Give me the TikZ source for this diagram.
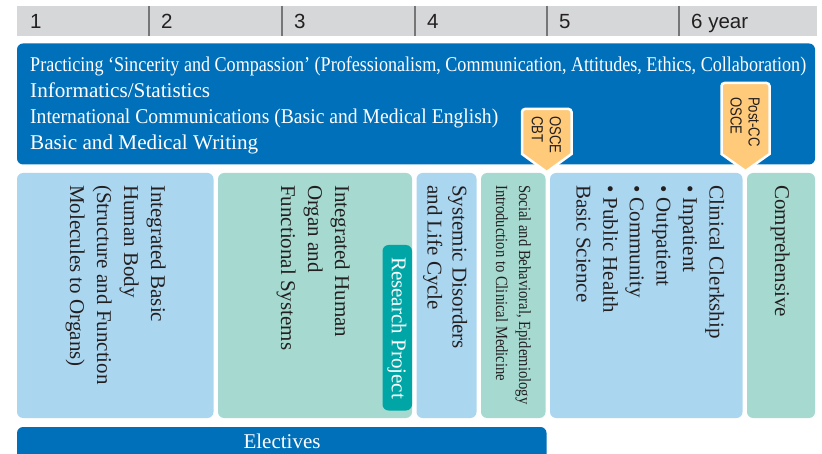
\documentclass[tikz,border=0pt]{standalone}
\usepackage{fontspec}
\usepackage{graphicx}
\setmainfont{Liberation Serif}
\newfontfamily\hdrfont{Liberation Sans}
\newfontfamily\badgefont[FakeStretch=0.82]{Liberation Sans}
\newfontfamily\smallserif[FakeStretch=0.86]{Liberation Serif}
\definecolor{hdrgray}{RGB}{213,215,216}
\definecolor{divgray}{RGB}{118,118,118}
\definecolor{darkblue}{RGB}{0,112,186}
\definecolor{lightblue}{RGB}{171,214,240}
\definecolor{lightteal}{RGB}{166,218,208}
\definecolor{resteal}{RGB}{0,166,166}
\definecolor{badgeorange}{RGB}{255,202,122}
\definecolor{txt}{RGB}{35,31,32}
\tikzset{
  colbox/.style={rounded corners=6pt},
  hdrlabel/.style={anchor=base west, inner sep=0pt, font=\hdrfont\fontsize{20.5}{24}\selectfont, text=txt},
  toptext/.style={anchor=base west, inner sep=0pt, text=white, font=\fontsize{21}{26}\selectfont},
  vtext/.style={rotate=-90, anchor=north west, inner sep=0pt, align=left, text=txt, font=\fontsize{21}{27}\selectfont},
  badgetext/.style={rotate=-90, anchor=west, inner sep=0pt, align=left, text=txt, font=\badgefont\fontsize{16}{18}\selectfont},
  badgeshape/.style={fill=badgeorange, draw=white, line width=2.5pt, line join=miter}
}
\begin{document}
\begin{tikzpicture}[x=1pt,y=-1pt]
\clip (0,0) rectangle (822,454);
\fill[white] (0,0) rectangle (822,454);
% header
\fill[hdrgray] (17,6) rectangle (816.5,36.5);
\foreach \xx in {149,282,415,547,679}{
  \draw[divgray, line width=1.8pt] (\xx,6) -- (\xx,36.5);
}
\node[hdrlabel] (y1) at (30,28.5) {1};
\node[hdrlabel] (y2) at (161,28.5) {2};
\node[hdrlabel] (y3) at (294,28.5) {3};
\node[hdrlabel] (y4) at (427,28.5) {4};
\node[hdrlabel] (y5) at (559,28.5) {5};
\node[hdrlabel] (y6) at (691,28.5) {6 year};
% top blue box
\fill[darkblue, rounded corners=6pt] (17,43.5) rectangle (815,164.5);
\node[toptext] (t1) at (30,72) {\resizebox{776pt}{\height}{Practicing ‘Sincerity and Compassion’ (Professionalism, Communication, Attitudes, Ethics, Collaboration)}};
\node[toptext] (t2) at (30,98) {\resizebox{180pt}{\height}{Informatics/Statistics}};
\node[toptext] (t3) at (30,124) {\resizebox{468pt}{\height}{International Communications (Basic and Medical English)}};
\node[toptext] (t4) at (30,150) {\resizebox{228pt}{\height}{Basic and Medical Writing}};
% columns
\fill[lightblue, colbox] (17,173) rectangle (213.5,418);
\fill[lightteal, colbox] (218,173) rectangle (412,418);
\fill[resteal, rounded corners=6pt] (382.5,245) rectangle (412,410.5);
\fill[lightblue, colbox] (416.5,173) rectangle (476.5,418);
\fill[lightteal, colbox] (481,173) rectangle (545.5,418);
\fill[lightblue, colbox] (550,173) rectangle (742.5,418);
\fill[lightteal, colbox] (747,173) rectangle (815,418);
% electives
\fill[darkblue, rounded corners=6pt] (17,427) rectangle (546.5,470);
\node[anchor=base, inner sep=0pt, text=white, font=\fontsize{21}{26}\selectfont] (el) at (282,448) {Electives};
% column texts
\node[vtext] (c1) at (166,185) {Integrated Basic\\Human Body\\(Structure and Function\\Molecules to Organs)};
\node[vtext] (c2) at (350,185) {Integrated Human\\Organ and\\Functional Systems};
\node[rotate=-90, inner sep=0pt, text=white, font=\fontsize{21}{26}\selectfont] (rp) at (397,328) {Research Project};
\node[vtext, font=\fontsize{21}{25}\selectfont] (c3) at (467.5,185) {Systemic Disorders\\and Life Cycle};
\node[vtext, font=\smallserif\fontsize{17}{23}\selectfont] (c4) at (531,185) {Social and Behavioral, Epidemiology\\Introduction to Clinical Medicine};
\node[vtext, font=\fontsize{21}{26.6}\selectfont] (c5) at (724.5,185) {Clinical Clerkship\\• Inpatient\\• Outpatient\\• Community\\• Public Health\\Basic Science};
\node[vtext] (c6) at (790,185) {Comprehensive};
% badges
\draw[badgeshape] (522,154) [rounded corners=3pt] -- (522,109) -- (571.5,109) [sharp corners] -- (571.5,154) -- (546.75,172) -- cycle;
\node[badgetext] (b1) at (546.5,116) {OSCE\\CBT};
\draw[badgeshape] (721.5,154) [rounded corners=3pt] -- (721.5,83) -- (769.5,83) [sharp corners] -- (769.5,154) -- (745.5,171) -- cycle;
\node[badgetext] (b2) at (745,97) {Post-CC\\OSCE};
\end{tikzpicture}
\end{document}
